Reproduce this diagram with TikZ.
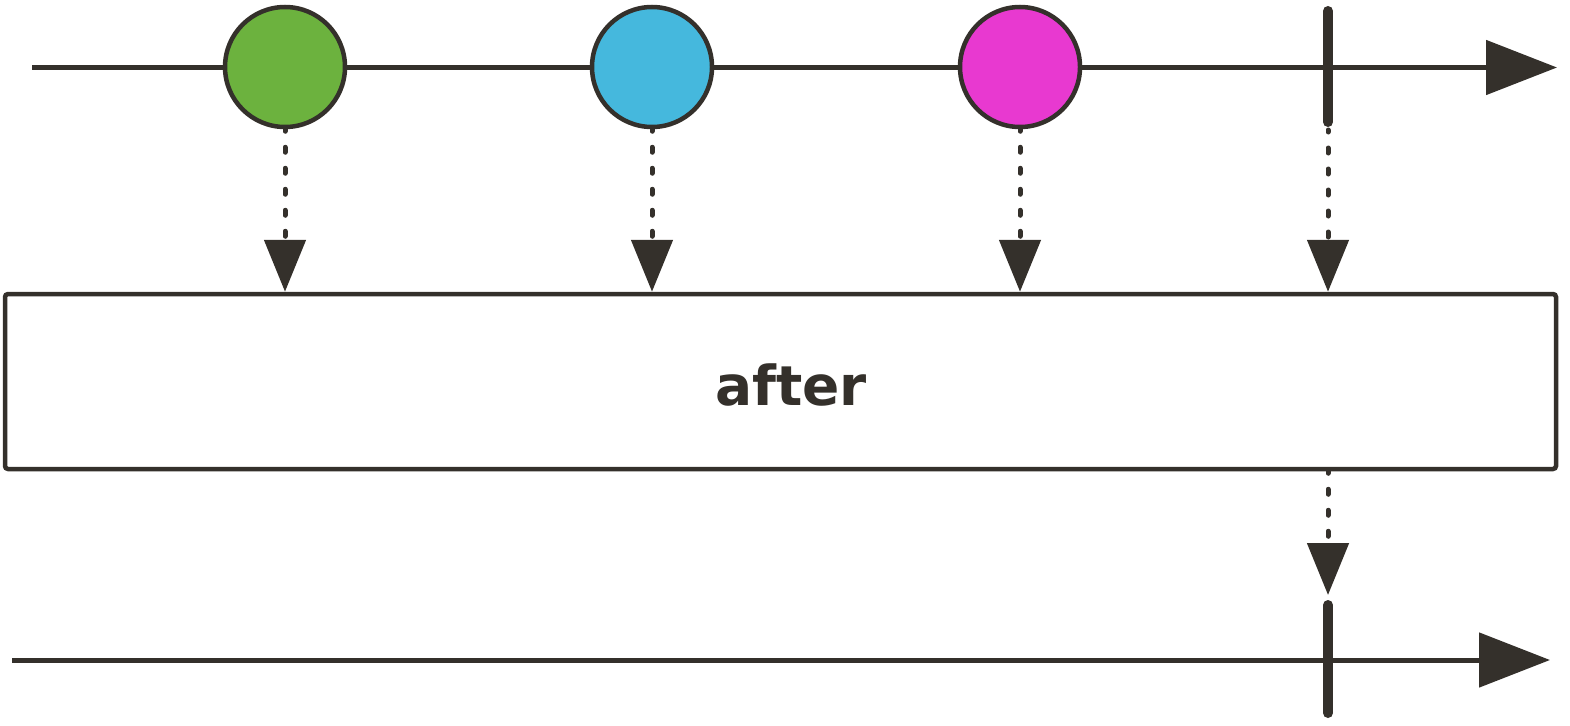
\documentclass[tikz,border=0pt]{standalone}
\usepackage{fontspec}
\setmainfont{DejaVu Sans}
\usetikzlibrary{arrows.meta}
\definecolor{ink}{RGB}{52,48,43}
\definecolor{cgreen}{RGB}{108,178,62}
\definecolor{cblue}{RGB}{69,184,221}
\definecolor{cmag}{RGB}{232,57,208}
\tikzset{
  timeline/.style={draw=ink, line width=5pt, -{Triangle[length=71pt,width=54pt]}},
  marble/.style={circle, draw=ink, line width=4.5pt, minimum size=120pt, inner sep=0pt},
  dotarrow/.style={draw=ink, line width=5pt, line cap=round, dash pattern=on 5pt off 16pt,
    dash phase=3pt, -{Triangle[length=52pt,width=41pt]}},
  endbar/.style={draw=ink, line width=10pt, line cap=round},
  opbox/.style={draw=ink, line width=4.5pt, rounded corners=3pt, fill=white,
    minimum width=1551pt, minimum height=175pt, inner sep=0pt},
  oplabel/.style={font=\bfseries\fontsize{55}{60}\selectfont, text=ink, inner sep=0pt, anchor=base}
}
\begin{document}
\begin{tikzpicture}[x=1pt,y=-1pt]
\useasboundingbox (0,0) rectangle (1570,725);
% top timeline
\coordinate (s1) at (32,67.5);
\coordinate (e1) at (1557,67.5);
\draw[timeline] (s1) -- (e1);
\node[marble, fill=cgreen] (g) at (285,67) {};
\node[marble, fill=cblue] (b) at (652,67) {};
\node[marble, fill=cmag] (m) at (1020,67) {};
\coordinate (c1t) at (1328,11);
\coordinate (c1b) at (1328,122);
\draw[endbar] (c1t) -- (c1b);
% operator box
\node[opbox] (box) at (780.5,381.5) {};
\node[oplabel] (lbl) at (791,405) {after};
% dotted arrows to box
\draw[dotarrow] (g.south) -- (g.south |- box.north);
\draw[dotarrow] (b.south) -- (b.south |- box.north);
\draw[dotarrow] (m.south) -- (m.south |- box.north);
\coordinate (c1e) at (1328,130);
\draw[dotarrow] (c1e) -- (c1e |- box.north);
% bottom timeline
\coordinate (s2) at (12,660);
\coordinate (e2) at (1550,660);
\draw[timeline] (s2) -- (e2);
\coordinate (c2t) at (1328,605);
\coordinate (c2b) at (1328,713);
\draw[endbar] (c2t) -- (c2b);
\coordinate (c2a) at (1328,595);
\draw[dotarrow] (c2a |- box.south) -- (c2a);
\end{tikzpicture}
\end{document}
